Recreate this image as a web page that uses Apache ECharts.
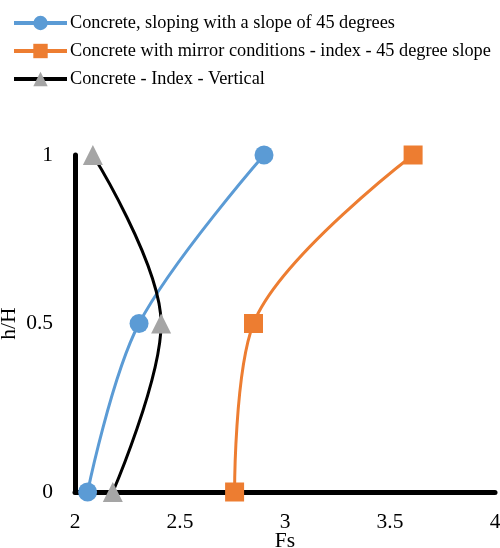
<!DOCTYPE html>
<html>
<head>
<meta charset="utf-8">
<script src="https://cdn.jsdelivr.net/npm/echarts@6/dist/echarts.min.js"></script>
<style>
  html, body { margin: 0; padding: 0; background: #fff; }
  #chart { width: 500px; height: 548px; }
</style>
</head>
<body>
<div id="chart"></div>
<script>
// h/H levels and the factor of safety (Fs) at each level
const levels = [0, 0.5, 1];
const fsSloping45 = [2.06, 2.305, 2.9];
const fsMirror45 = [2.76, 2.85, 3.61];
const fsVertical = [2.18, 2.41, 2.085];

const seriesNames = [
  'Concrete, sloping with a slope of 45 degrees',
  'Concrete with mirror conditions - index - 45 degree slope',
  'Concrete - Index - Vertical'
];
const xTicks = [2, 2.5, 3, 3.5, 4];

const pairs = (xs) => xs.map((x, i) => [x, levels[i]]);
const serif = '"Liberation Serif", "Times New Roman", serif';

const chart = echarts.init(document.getElementById('chart'), null, { renderer: 'canvas' });

function makeSeries(name, xs, lineColor, markerColor, symbol, size) {
  return {
    name: name,
    type: 'line',
    data: pairs(xs),
    smooth: 0.34,
    symbol: symbol,
    symbolSize: size,
    showAllSymbol: true,
    lineStyle: { color: lineColor, width: 3 },
    itemStyle: { color: markerColor, borderWidth: 0 },
    emphasis: { disabled: true },
    z: 3
  };
}

chart.setOption({
  animation: false,
  textStyle: { fontFamily: serif },
  legend: {
    orient: 'vertical',
    left: 12,
    top: 14,
    padding: 0,
    itemGap: 10,
    itemWidth: 53,
    itemHeight: 18,
    textStyle: { fontFamily: serif, fontSize: 18.3, color: '#000', padding: [0, 0, 0, -2] },
    lineStyle: { width: 4 },
    data: seriesNames
  },
  grid: { left: 75, right: 5, top: 155, bottom: 56, outerBoundsMode: 'none', containLabel: false },
  xAxis: {
    type: 'value',
    min: xTicks[0],
    max: xTicks[xTicks.length - 1],
    interval: 0.5,
    name: 'Fs',
    nameLocation: 'middle',
    nameGap: 38,
    nameMoveOverlap: false,
    nameTextStyle: { fontFamily: serif, fontSize: 21.5, color: '#000' },
    axisLine: { show: true, onZero: false, lineStyle: { color: '#000', width: 5 } },
    axisTick: { show: false },
    splitLine: { show: false },
    axisLabel: { fontFamily: serif, fontSize: 21.5, color: '#000', margin: 19 }
  },
  yAxis: {
    type: 'value',
    min: 0,
    max: 1,
    interval: 0.5,
    name: 'h/H',
    nameLocation: 'middle',
    nameGap: 55,
    nameMoveOverlap: false,
    nameTextStyle: { fontFamily: serif, fontSize: 21.5, color: '#000' },
    axisLine: { show: true, onZero: false, lineStyle: { color: '#000', width: 5 } },
    axisTick: { show: false },
    splitLine: { show: false },
    axisLabel: { fontFamily: serif, fontSize: 21.5, color: '#000', margin: 22 }
  },
  series: [
    makeSeries(seriesNames[0], fsSloping45, '#5b9bd5', '#5b9bd5', 'circle', 19),
    makeSeries(seriesNames[1], fsMirror45, '#ed7d31', '#ed7d31', 'rect', 19),
    makeSeries(seriesNames[2], fsVertical, '#000000', '#a5a5a5', 'triangle', 20)
  ]
});
</script>
</body>
</html>
